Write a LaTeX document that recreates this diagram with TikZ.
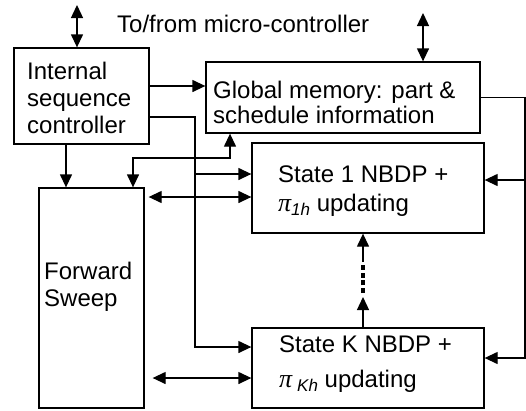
\documentclass[tikz,border=0pt]{standalone}
\usepackage{fontspec}
\setmainfont{Liberation Sans}
\newfontfamily\greekfont{Liberation Serif}
\usetikzlibrary{shapes,arrows.meta}

% italic pi with an italic subscript
\newcommand{\pisub}[1]{{\greekfont\itshape\fontsize{26}{27}\selectfont π}%
	\raisebox{-4pt}{\itshape\fontsize{17}{17}\selectfont #1}}

\begin{document}
\begin{tikzpicture}[x=1pt, y=-1pt, >={Triangle[length=13pt,width=12pt]},
	font=\fontsize{24}{27}\selectfont]
	\tikzstyle{block} = [rectangle, draw, line width=1.3pt, inner sep=0pt]
	\tikzstyle{txt} = [anchor=north west, align=left, inner sep=0pt]
	\tikzstyle{line} = [draw, ->, line width=1.3pt]
	\tikzstyle{dline} = [draw, <->, line width=1.3pt]
	\tikzstyle{dots} = [draw, line width=4.5pt, dash pattern=on 5pt off 2.7pt]
	\useasboundingbox (0,0) rectangle (526,410);
	% Place nodes
	\node [block, minimum width=135pt, minimum height=96pt] (seq) at (81.5,96) {};
	\node [block, minimum width=274pt, minimum height=71pt] (mem) at (343,97.5) {};
	\node [block, minimum width=105pt, minimum height=220pt] (sweep) at (91.5,298) {};
	\node [block, minimum width=232pt, minimum height=90pt] (s1) at (368,188) {};
	\node [block, minimum width=232pt, minimum height=80pt] (sk) at (368,368) {};
	\node [anchor=base west, inner sep=0pt] (title) at (117,32.5) {To/from micro-controller};
	\node [txt] (seqtext) at (27,62) {Internal\\sequence\\controller};
	\node [txt, font=\fontsize{24}{25}\selectfont] (memtext) at (213,81)
		{Global memory: part \&\\schedule information};
	\node [txt] (sweeptext) at (44,262) {Forward\\Sweep};
	\node [txt] (s1text) at (278,166) {State 1 NBDP +\\[2pt]\pisub{1h} updating};
	\node [txt] (sktext) at (279,336)
		{State K NBDP +\\[8pt]\pisub{\hspace{5pt}Kh} updating};
	% Free ends and bends
	\coordinate (mcu) at (77,5);
	\coordinate (bus) at (423,13);
	\coordinate (toMem) at ([yshift=10pt]seq.east);
	\coordinate (toK) at ([yshift=-21pt]seq.east);
	\coordinate (tap) at (195,174);
	\coordinate (kIn) at ([yshift=21pt]sk.west);
	\coordinate (down) at ([xshift=-15.5pt]seq.south);
	\coordinate (junc) at (133,158);
	\coordinate (memUp) at ([xshift=-113pt]mem.south);
	\coordinate (fs1) at ([yshift=-9pt]s1.west);
	\coordinate (fsk) at ([yshift=-10pt]sk.west);
	\coordinate (rail) at (525,180);
	\coordinate (kBack) at ([yshift=10pt]sk.east);
	\coordinate (gapTop) at (363,262);
	\coordinate (gapBot) at (363,297);
	% Draw edges
	\path [dline] (mcu) -- (mcu |- seq.north);
	\path [dline] (bus) -- (bus |- mem.north);
	\path [line] (toMem) -- (toMem -| mem.west);
	\path [line] (toK) -| (tap) |- (kIn);
	\path [line] (tap) -- (tap -| s1.west);
	\path [line] (down) -- (down |- sweep.north);
	\path [dline] (memUp) |- (junc) -- (junc |- sweep.north);
	\path [dline, shorten <=4pt] (fs1 -| sweep.east) -- (fs1);
	\path [dline, shorten <=8pt] (fsk -| sweep.east) -- (fsk);
	\path [line] (mem.east) -| (rail) |- (kBack);
	\path [line] (rail) -- (rail -| s1.east);
	\path [line] ([xshift=-5pt]sk.north) -- (gapBot);
	\path [dots] (363,293) -- (363,265);
	\path [line] (gapTop) -- (gapTop |- s1.south);
\end{tikzpicture}
\end{document}
